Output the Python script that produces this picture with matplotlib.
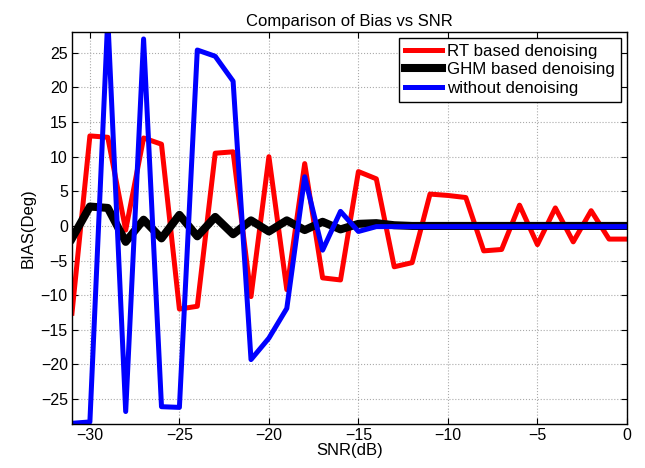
import numpy as np
import matplotlib
matplotlib.use("Agg")
import matplotlib.pyplot as plt

plt.rcParams['font.family'] = ['Liberation Sans', 'DejaVu Sans']

snr = list(range(-31, 1))
rt = [-12.6, 13.0, 12.8, -0.6, 12.7, 11.8, -12.0, -11.6, 10.5, 10.7, -10.2,
      10.0, -9.2, 9.0, -7.5, -7.8, 7.85, 6.8, -5.9, -5.3, 4.6, 4.4, 4.1,
      -3.6, -3.4, 3.0, -2.7, 2.6, -2.3, 2.2, -1.9, -1.9]
ghm = [-1.8, 2.8, 2.6, -2.3, 0.9, -1.8, 1.6, -1.5, 1.3, -1.2, 0.8,
       -0.8, 0.8, -0.6, 0.6, -0.5, 0.3, 0.4, 0.1, 0.0, 0.0, 0.0, 0.0,
       0.0, 0.0, 0.0, 0.0, 0.0, 0.0, 0.0, 0.0, 0.0]
raw = [-28.5, -28.3, 30.0, -26.8, 27.0, -26.1, -26.2, 25.4, 24.5, 20.9, -19.3,
       -16.2, -11.9, 7.1, -3.5, 2.1, -0.8, -0.1, -0.1, -0.1, -0.1, -0.1, -0.1,
       -0.1, -0.1, -0.1, -0.1, -0.1, -0.1, -0.1, -0.1, -0.1]

fig = plt.figure(figsize=(6.45, 4.68), dpi=100)
ax = fig.add_axes([0.1116, 0.094, 0.8604, 0.8376])
ax.plot(snr, rt, color='#ff0000', lw=3.6, label='RT based denoising')
ax.plot(snr, ghm, color='black', lw=5.8, label='GHM based denoising')
ax.plot(snr, raw, color='#0000ff', lw=3.6, label='without denoising')
ax.set_xlim(-31, 0)
ax.set_ylim(-28.6, 28)
ax.set_xticks([-30, -25, -20, -15, -10, -5, 0])
ax.set_yticks([-25, -20, -15, -10, -5, 0, 5, 10, 15, 20, 25])
ax.grid(True, linestyle=':', color='#aaaaaa', lw=0.8)
ax.tick_params(direction='in', top=True, right=True, labelsize=11.5, length=4, pad=3)
for s in ax.spines.values():
    s.set_linewidth(1.0)
ax.set_xlabel('SNR(dB)', fontsize=12, labelpad=0)
ax.set_ylabel('BIAS(Deg)', fontsize=12, labelpad=4)
ax.set_title('Comparison of Bias vs SNR', fontsize=12, pad=4)
leg = ax.legend(loc='upper right', fontsize=12.2, fancybox=False, framealpha=1,
                edgecolor='black', borderaxespad=0.35, handlelength=2.2,
                handletextpad=0.3, labelspacing=0.2, borderpad=0.35)
leg.get_frame().set_linewidth(1.0)
fig.savefig('out.png', dpi=100)
